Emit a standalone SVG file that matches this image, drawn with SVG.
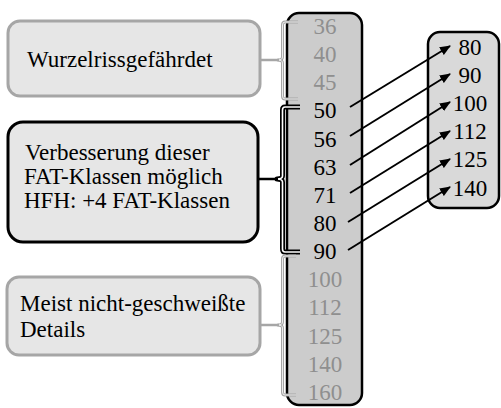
<svg xmlns="http://www.w3.org/2000/svg" width="501" height="408" viewBox="0 0 501 408">
<style>
text{font-family:"Liberation Serif","Times New Roman",serif;font-size:23px;fill:#000}
.g{fill:#8f8f8f}
.num{text-anchor:middle}
.boxg{fill:#e6e6e6;stroke:#a6a6a6;stroke-width:3}
.boxb{fill:#e6e6e6;stroke:#000;stroke-width:3}
.col{fill:#cccccc;stroke:#000;stroke-width:2.5}
.colr{fill:#d9d9d9;stroke:#000;stroke-width:2.5}
.arr{stroke:#000;stroke-width:2;fill:none;marker-end:url(#ah)}
.bo-g{fill:none;stroke:#a6a6a6;stroke-width:3;stroke-linejoin:round}
.bo-b{fill:none;stroke:#000;stroke-width:5;stroke-linejoin:round}
.bi{fill:none;stroke:#fff;stroke-width:1.6;stroke-linejoin:round}
.big{fill:none;stroke:#fff;stroke-width:0.8;stroke-linejoin:round}
.cg{stroke:#a6a6a6;stroke-width:2.5;fill:none}
.cb{stroke:#000;stroke-width:2.5;fill:none}
</style>
<defs>
<marker id="ah" markerWidth="11" markerHeight="9" refX="10" refY="4.5" orient="auto" markerUnits="userSpaceOnUse">
<path d="M0,0 L11,4.5 L0,9 Z" fill="#000"/>
</marker>
</defs>
<g id="box-wurzel">
<rect class="boxg" x="8" y="21" width="252" height="75" rx="12"/>
<text x="27" y="67">Wurzelrissgefährdet</text>
</g>
<g id="box-verbesserung">
<rect class="boxb" x="8" y="122" width="250" height="120" rx="15"/>
<text x="25" y="160">Verbesserung dieser</text>
<text x="24" y="184">FAT-Klassen möglich</text>
<text x="24" y="208">HFH: +4 FAT-Klassen</text>
</g>
<g id="box-meist">
<rect class="boxg" x="7" y="277" width="253" height="78" rx="12"/>
<text x="20" y="311">Meist nicht-geschweißte</text>
<text x="20" y="337">Details</text>
</g>
<g id="column-left">
<rect class="col" x="287" y="13" width="75" height="392" rx="12"/>
<text class="num g" x="325" y="34">36</text>
<text class="num g" x="325" y="62">40</text>
<text class="num g" x="325" y="90">45</text>
<text class="num" x="325" y="118">50</text>
<text class="num" x="325" y="147">56</text>
<text class="num" x="325" y="175">63</text>
<text class="num" x="325" y="203">71</text>
<text class="num" x="325" y="231">80</text>
<text class="num" x="325" y="259">90</text>
<text class="num g" x="325" y="287">100</text>
<text class="num g" x="325" y="315">112</text>
<text class="num g" x="325" y="344">125</text>
<text class="num g" x="325" y="372">140</text>
<text class="num g" x="325" y="400">160</text>
</g>
<g id="column-right">
<rect class="colr" x="428" y="32" width="71" height="176" rx="12"/>
<text class="num" x="470" y="55">80</text>
<text class="num" x="470" y="83">90</text>
<text class="num" x="470" y="111">100</text>
<text class="num" x="470" y="139">112</text>
<text class="num" x="470" y="167">125</text>
<text class="num" x="470" y="196">140</text>
</g>
<g id="braces">
<path class="bo-g" d="M298,22 L285,22 Q282.5,22 282.5,25 L282.5,57 Q282.5,60 278,60 Q282.5,60 282.5,63 L282.5,96 Q282.5,99 285,99 L298,99"/>
<path class="big" d="M298,22 L285,22 Q282.5,22 282.5,25 L282.5,57 Q282.5,60 278,60 Q282.5,60 282.5,63 L282.5,96 Q282.5,99 285,99 L298,99"/>
<path class="bo-b" d="M300,107 L285,107 Q282.5,107 282.5,110 L282.5,176 Q282.5,179 277,179 Q282.5,179 282.5,182 L282.5,249 Q282.5,252 285,252 L300,252"/>
<path class="bi" d="M300,107 L285,107 Q282.5,107 282.5,110 L282.5,176 Q282.5,179 277,179 Q282.5,179 282.5,182 L282.5,249 Q282.5,252 285,252 L300,252"/>
<path class="bo-g" d="M296,256 L285,256 Q282.5,256 282.5,259 L282.5,322 Q282.5,325 278,325 Q282.5,325 282.5,328 L282.5,392 Q282.5,395 285,395 L296,395"/>
<path class="big" d="M296,256 L285,256 Q282.5,256 282.5,259 L282.5,322 Q282.5,325 278,325 Q282.5,325 282.5,328 L282.5,392 Q282.5,395 285,395 L296,395"/>
</g>
<g id="connectors">
<line class="cg" x1="260" y1="60" x2="279" y2="60"/>
<line class="cb" x1="258" y1="179" x2="278" y2="179"/>
<line class="cg" x1="260" y1="325" x2="279" y2="325"/>
<line class="arr" x1="350" y1="107" x2="450" y2="46"/>
<line class="arr" x1="350" y1="136" x2="450" y2="74"/>
<line class="arr" x1="350" y1="165" x2="450" y2="102"/>
<line class="arr" x1="350" y1="193" x2="450" y2="131"/>
<line class="arr" x1="348" y1="222" x2="450" y2="159"/>
<line class="arr" x1="348" y1="250" x2="450" y2="187"/>
</g>
</svg>
